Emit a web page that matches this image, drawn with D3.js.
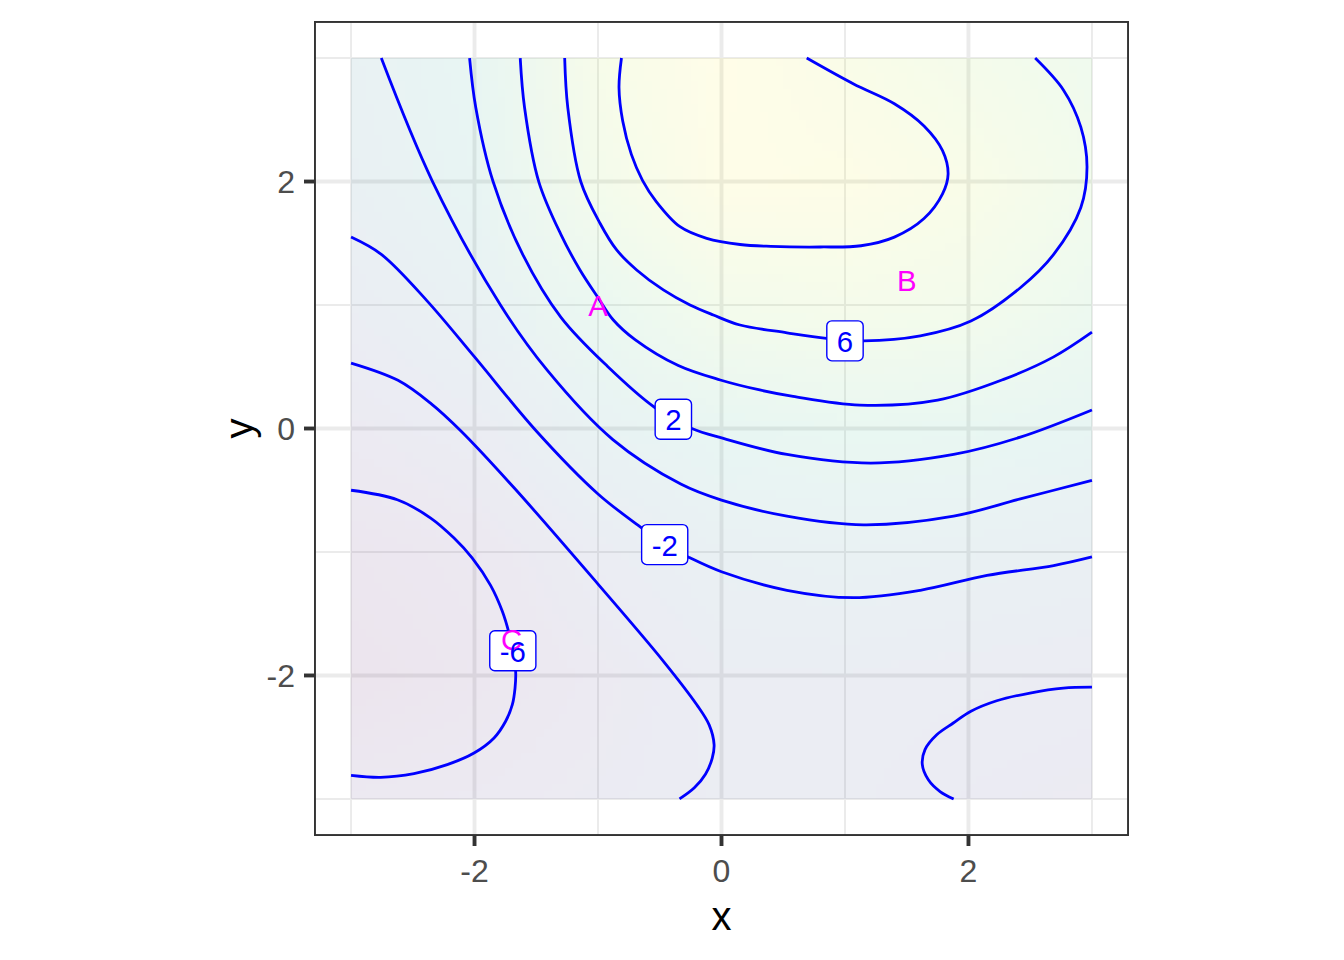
<!DOCTYPE html>
<html>
<head>
<meta charset="utf-8">
<script src="https://cdn.jsdelivr.net/npm/d3@7"></script>
<style>
  body { margin: 0; background: #ffffff; }
  text { font-family: "Liberation Sans", Arial, Helvetica, sans-serif; }
</style>
</head>
<body>
<div id="chart"></div>
<script>
// fill grid (z at integer x,y; rows go from y=3 down to y=-3)
var xGrid = [-3, -2, -1, 0, 1, 2, 3];
var yGrid = [3, 2, 1, 0, -1, -2, -3];
var zRows = [
  [-0.7,  2.2,  7.2,  9.3,  7.8,  6.6,  5.4],
  [-1.4,  1.5,  6.5,  9.0,  8.8,  7.7,  5.9],
  [-3.1, -0.75, 3.7,  6.35, 6.75, 6.3,  4.5],
  [-5.0, -3.6, -0.2,  2.35, 3.2,  2.85, 1.5],
  [-6.8, -5.9, -3.5, -1.45, -0.8, -1.2, -1.9],
  [-7.6, -6.5, -5.0, -3.3, -3.2, -3.6, -3.85],
  [-5.6, -5.1, -4.4, -3.6, -3.6, -4.3, -4.8]
];

// contour lines, [x, y] points
var level8 = [[-0.81, 3.0], [-0.83, 2.76], [-0.80, 2.49], [-0.73, 2.22], [-0.64, 2.01],
  [-0.53, 1.84], [-0.336, 1.634], [-0.12, 1.54], [0.15, 1.49], [0.40, 1.475], [0.80, 1.47],
  [1.13, 1.48], [1.40, 1.55], [1.64, 1.70], [1.79, 1.90], [1.835, 2.06], [1.79, 2.25],
  [1.64, 2.45], [1.40, 2.63], [1.07, 2.79], [0.69, 3.0]];
var level6 = [[-1.27, 3.0], [-1.245, 2.6], [-1.14, 2.0], [-0.984, 1.662], [-0.849, 1.446],
  [-0.687, 1.284], [-0.471, 1.122], [-0.255, 1.0], [-0.066, 0.919], [0.15, 0.838],
  [0.53, 0.775], [0.85, 0.73], [1.15, 0.71], [1.61, 0.75], [2.02, 0.87], [2.42, 1.14],
  [2.69, 1.41], [2.91, 1.79], [2.96, 2.12], [2.91, 2.44], [2.77, 2.74], [2.54, 3.0]];
var level4 = [[-1.63, 3.0], [-1.595, 2.6], [-1.48, 2.0], [-1.30, 1.57], [-1.146, 1.284],
  [-1.0, 1.06], [-0.876, 0.879], [-0.70, 0.72], [-0.35, 0.51], [-0.01, 0.393], [0.31, 0.312],
  [0.58, 0.26], [1.12, 0.19], [1.75, 0.23], [2.29, 0.40], [2.69, 0.58], [3.0, 0.78]];
var level2 = [[-2.04, 3.0], [-1.99, 2.6], [-1.85, 2.0], [-1.61, 1.41], [-1.30, 0.90],
  [-0.92, 0.50], [-0.54, 0.17], [-0.24, 0.0], [0.015, -0.08], [0.53, -0.21], [1.21, -0.28],
  [1.88, -0.21], [2.42, -0.07], [3.0, 0.15]];
var level0 = [[-2.755, 3.0], [-2.34, 2.0], [-1.79, 1.0], [-1.41, 0.47], [-0.88, -0.09],
  [-0.33, -0.45], [0.0, -0.58], [0.53, -0.71], [1.15, -0.78], [1.88, -0.71], [2.42, -0.57],
  [3.0, -0.42]];
var levelM2 = [[-3.0, 1.55], [-2.755, 1.41], [-2.39, 1.04], [-2.0, 0.58], [-1.5, -0.02],
  [-1.0, -0.53], [-0.64, -0.81], [-0.46, -0.94], [-0.26, -1.045], [0.0, -1.16], [0.53, -1.31],
  [1.07, -1.37], [1.61, -1.31], [2.15, -1.19], [2.69, -1.11], [3.0, -1.04]];
var levelM4 = [[-3.0, 0.53], [-2.62, 0.39], [-2.35, 0.20], [-2.11, -0.02], [-1.68, -0.48],
  [-1.0, -1.26], [-0.47, -1.885], [-0.20, -2.237], [-0.10, -2.40], [-0.06, -2.56],
  [-0.075, -2.67], [-0.13, -2.80], [-0.22, -2.91], [-0.34, -3.0]];
var levelM4b = [[1.88, -3.0], [1.77, -2.94], [1.675, -2.845], [1.626, -2.72], [1.648, -2.60],
  [1.743, -2.48], [1.877, -2.385], [2.02, -2.29], [2.229, -2.205], [2.498, -2.142],
  [2.768, -2.102], [3.0, -2.095]];
var levelM6 = [[-3.0, -0.50], [-2.625, -0.577], [-2.355, -0.725], [-2.166, -0.887],
  [-2.018, -1.049], [-1.87, -1.27], [-1.775, -1.48], [-1.72, -1.66], [-1.69, -1.80],
  [-1.667, -1.966], [-1.672, -2.102], [-1.694, -2.237], [-1.748, -2.371], [-1.842, -2.506],
  [-2.004, -2.628], [-2.221, -2.722], [-2.49, -2.795], [-2.76, -2.825], [-3.0, -2.809]];

var contourLines = [level8, level6, level4, level2, level0, levelM2, levelM4, levelM4b, levelM6];

// boxed contour labels
var labelText = ["6", "2", "-2", "-6"];
var labelX = [1.0, -0.39, -0.46, -1.69];
var labelY = [0.71, 0.075, -0.94, -1.80];

// annotations
var noteText = ["A", "B", "C"];
var noteX = [-1, 1.5, -1.7];
var noteY = [1, 1.2, -1.7];

var majorTicks = [-2, 0, 2];
var minorTicks = [-3, -1, 1, 3];

var svgWidth = 1344, svgHeight = 960;
var panel = { left: 314, right: 1129, top: 21, bottom: 836 };

var svg = d3.select("#chart").append("svg")
    .attr("width", svgWidth)
    .attr("height", svgHeight);

var xScale = d3.scaleLinear().domain([-3.3, 3.3]).range([panel.left, panel.right]);
var yScale = d3.scaleLinear().domain([-3.3, 3.3]).range([panel.bottom, panel.top]);

svg.append("defs").append("clipPath").attr("id", "rasterClip")
  .append("rect")
    .attr("x", xScale(-3))
    .attr("y", yScale(3))
    .attr("width", xScale(3) - xScale(-3))
    .attr("height", yScale(-3) - yScale(3));

svg.select("defs").append("clipPath").attr("id", "panelClip")
  .append("rect")
    .attr("x", panel.left).attr("y", panel.top)
    .attr("width", panel.right - panel.left)
    .attr("height", panel.bottom - panel.top);

var plot = svg.append("g").attr("clip-path", "url(#panelClip)");

// grid
plot.selectAll(".minorx").data(minorTicks).enter().append("line")
    .attr("x1", d => xScale(d)).attr("x2", d => xScale(d))
    .attr("y1", panel.top).attr("y2", panel.bottom)
    .attr("stroke", "#ebebeb").attr("stroke-width", 1.94);
plot.selectAll(".minory").data(minorTicks).enter().append("line")
    .attr("y1", d => yScale(d)).attr("y2", d => yScale(d))
    .attr("x1", panel.left).attr("x2", panel.right)
    .attr("stroke", "#ebebeb").attr("stroke-width", 1.94);
plot.selectAll(".majorx").data(majorTicks).enter().append("line")
    .attr("x1", d => xScale(d)).attr("x2", d => xScale(d))
    .attr("y1", panel.top).attr("y2", panel.bottom)
    .attr("stroke", "#ebebeb").attr("stroke-width", 3.88);
plot.selectAll(".majory").data(majorTicks).enter().append("line")
    .attr("y1", d => yScale(d)).attr("y2", d => yScale(d))
    .attr("x1", panel.left).attr("x2", panel.right)
    .attr("stroke", "#ebebeb").attr("stroke-width", 3.88);

// raster fill
var zAll = d3.merge(zRows);
var color = d3.scaleSequential(d3.interpolateViridis).domain(d3.extent(zAll));

var canvas = document.createElement("canvas");
canvas.width = xGrid.length;
canvas.height = yGrid.length;
var ctx = canvas.getContext("2d");
var imgData = ctx.createImageData(canvas.width, canvas.height);
zRows.forEach(function(row, j) {
  row.forEach(function(z, i) {
    var c = d3.rgb(color(z));
    var k = 4 * (j * canvas.width + i);
    imgData.data[k] = c.r;
    imgData.data[k + 1] = c.g;
    imgData.data[k + 2] = c.b;
    imgData.data[k + 3] = 255;
  });
});
ctx.putImageData(imgData, 0, 0);

plot.append("g").attr("clip-path", "url(#rasterClip)")
  .append("image")
    .attr("href", canvas.toDataURL())
    .attr("x", xScale(xGrid[0] - 0.5))
    .attr("y", yScale(yGrid[0] + 0.5))
    .attr("width", xScale(xGrid[xGrid.length - 1] + 0.5) - xScale(xGrid[0] - 0.5))
    .attr("height", yScale(yGrid[yGrid.length - 1] - 0.5) - yScale(yGrid[0] + 0.5))
    .attr("preserveAspectRatio", "none")
    .attr("opacity", 0.1);

// contour lines
var line = d3.line()
    .x(d => xScale(d[0]))
    .y(d => yScale(d[1]))
    .curve(d3.curveCatmullRom.alpha(0.5));

plot.selectAll(".contour").data(contourLines).enter().append("path")
    .attr("d", line)
    .attr("fill", "none")
    .attr("stroke", "#0000ff")
    .attr("stroke-width", 2.8);

// label boxes
var labels = labelText.map((t, i) => ({ text: t, x: labelX[i], y: labelY[i] }));
var boxes = plot.selectAll(".lbox").data(labels).enter().append("rect");

// annotations A B C
plot.selectAll(".note").data(noteText).enter().append("text")
    .attr("x", (d, i) => xScale(noteX[i]))
    .attr("y", (d, i) => yScale(noteY[i]))
    .attr("dy", "0.38em")
    .attr("text-anchor", "middle")
    .attr("fill", "#ff00ff")
    .style("font-size", "29.4px")
    .text(d => d);

var labelTexts = plot.selectAll(".ltext").data(labels).enter().append("text")
    .attr("x", d => xScale(d.x))
    .attr("y", d => yScale(d.y))
    .attr("dy", "0.38em")
    .attr("text-anchor", "middle")
    .attr("fill", "#0000ff")
    .style("font-size", "29.4px")
    .text(d => d.text);

labelTexts.each(function(d) { d.w = this.getComputedTextLength(); });
boxes
    .attr("x", d => xScale(d.x) - d.w / 2 - 10)
    .attr("y", d => yScale(d.y) - 20)
    .attr("width", d => d.w + 20)
    .attr("height", 40)
    .attr("rx", 5).attr("ry", 5)
    .attr("fill", "#ffffff")
    .attr("stroke", "#0000ff")
    .attr("stroke-width", 1.4);

// panel border
svg.append("rect")
    .attr("x", panel.left + 0.97).attr("y", panel.top + 0.97)
    .attr("width", panel.right - panel.left - 1.94)
    .attr("height", panel.bottom - panel.top - 1.94)
    .attr("fill", "none")
    .attr("stroke", "#333333")
    .attr("stroke-width", 1.94);

// axes
svg.selectAll(".xtick").data(majorTicks).enter().append("line")
    .attr("x1", d => xScale(d)).attr("x2", d => xScale(d))
    .attr("y1", panel.bottom).attr("y2", panel.bottom + 10)
    .attr("stroke", "#333333").attr("stroke-width", 3.88);
svg.selectAll(".ytick").data(majorTicks).enter().append("line")
    .attr("y1", d => yScale(d)).attr("y2", d => yScale(d))
    .attr("x1", panel.left - 10).attr("x2", panel.left)
    .attr("stroke", "#333333").attr("stroke-width", 3.88);

svg.selectAll(".xlab").data(majorTicks).enter().append("text")
    .attr("x", d => xScale(d))
    .attr("y", 881.5)
    .attr("text-anchor", "middle")
    .attr("fill", "#4d4d4d")
    .style("font-size", "32px")
    .text(d => d);
svg.selectAll(".ylab").data(majorTicks).enter().append("text")
    .attr("x", 295)
    .attr("y", d => yScale(d))
    .attr("dy", "0.36em")
    .attr("text-anchor", "end")
    .attr("fill", "#4d4d4d")
    .style("font-size", "32px")
    .text(d => d);

svg.append("text")
    .attr("x", (panel.left + panel.right) / 2)
    .attr("y", 930)
    .attr("text-anchor", "middle")
    .attr("fill", "#000000")
    .style("font-size", "40px")
    .text("x");
svg.append("text")
    .attr("transform", `translate(253, ${(panel.top + panel.bottom) / 2}) rotate(-90)`)
    .attr("text-anchor", "middle")
    .attr("fill", "#000000")
    .style("font-size", "40px")
    .text("y");
</script>
</body>
</html>
